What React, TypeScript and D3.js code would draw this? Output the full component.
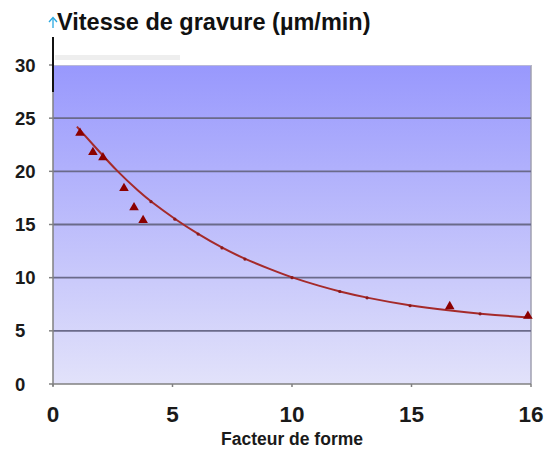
import React from 'react';
import * as d3 from 'd3';

// measured points (facteur de forme, vitesse)
const pointX = [1.13, 1.67, 2.09, 2.97, 3.39, 3.77, 16.6, 19.87];
const pointY = [23.6, 21.8, 21.3, 18.4, 16.6, 15.4, 7.3, 6.4];

// trend curve
const curveX = [1.0, 1.84, 2.68, 3.64, 4.1, 5.1, 6.07, 7.07, 8.03, 9.08, 10.0, 11.17, 12.0, 13.14, 14.94, 16.6, 17.87, 19.95];
const curveY = [24.2, 22.1, 20.0, 18.0, 17.15, 15.5, 14.1, 12.8, 11.75, 10.8, 10.0, 9.2, 8.7, 8.1, 7.36, 6.9, 6.6, 6.25];

// little markers sitting on the trend curve
const markX = [4.1, 5.1, 6.07, 7.07, 8.03, 10.0, 12.0, 13.14, 14.94, 17.87];

const xTicks = [0, 5, 10, 15, 20];
const xTickLabels = ['0', '5', '10', '15', '16'];
const yTicks = [0, 5, 10, 15, 20, 25, 30];

const W = 555;
const H = 450;
const left = 53, right = 531, top = 65, bottom = 384;

export default function App() {
  const x = d3.scaleLinear().domain([0, 20]).range([left, right]);
  const y = d3.scaleLinear().domain([0, 30]).range([bottom, top]);

  const curve = d3.line<number>()
    .x((d, i) => x(curveX[i]))
    .y(d => y(d))
    .curve(d3.curveBasis)(curveY);

  const tri = d3.symbol().type(d3.symbolTriangle).size(40)();
  const font = 'Liberation Sans, Arial, sans-serif';

  return (
    <svg width={W} height={H} style={{ position: 'absolute', left: 0, top: 0, background: '#fff' }}>
      <defs>
        <linearGradient id="bg" x1="0" y1="0" x2="0" y2="1">
          <stop offset="0" stopColor="#9898fd" />
          <stop offset="1" stopColor="#e2e2fa" />
        </linearGradient>
      </defs>

      <rect x={55} y={55} width={125} height={5} fill="#eeeeee" />
      <rect x={left} y={top} width={right - left} height={bottom - top} fill="url(#bg)" />
      <line x1={right} x2={right} y1={top} y2={bottom} stroke="#a0a0b0" strokeWidth={1.5} />

      {yTicks.filter(t => t > 0 && t < 30).map(t => (
        <line key={t} x1={left} x2={right} y1={y(t)} y2={y(t)} stroke="#6a6a8a" strokeWidth={1.8} />
      ))}
      <line x1={left} x2={right} y1={top + 0.5} y2={top + 0.5} stroke="#b8b8d8" strokeWidth={1} />

      {/* axes */}
      <line x1={left} x2={left} y1={top} y2={bottom + 2} stroke="#808080" strokeWidth={1.5} />
      <line x1={left} x2={right} y1={bottom} y2={bottom} stroke="#808080" strokeWidth={1.5} />
      {yTicks.map(t => (
        <line key={t} x1={left - 4} x2={left} y1={y(t)} y2={y(t)} stroke="#808080" strokeWidth={1.5} />
      ))}
      {xTicks.map(t => (
        <line key={t} x1={x(t)} x2={x(t)} y1={bottom} y2={bottom + 3} stroke="#808080" strokeWidth={1.5} />
      ))}
      <line x1={left} x2={left} y1={37} y2={92} stroke="#111" strokeWidth={2} />
      <line x1={left} x2={left} y1={18} y2={28} stroke="#29a8e0" strokeWidth={1.3} />
      <path d="M49,22 L53,17.5 L57,22" fill="none" stroke="#29a8e0" strokeWidth={1.3} />

      <path d={curve ?? ''} fill="none" stroke="#a52a2a" strokeWidth={2} />
      {markX.map((mx, i) => {
        const j = curveX.indexOf(mx);
        return <circle key={i} cx={x(mx)} cy={y(curveY[j])} r={1.6} fill="#8b1a1a" />;
      })}
      {pointX.map((px, i) => (
        <path key={i} d={tri ?? ''} transform={`translate(${x(px)},${y(pointY[i])})`} fill="#8b0000" />
      ))}

      {yTicks.map(t => (
        <text key={t} x={15} y={y(t) + 6.5} fontFamily={font} fontWeight="bold" fontSize={18.5} fill="#1a1a1a">{t}</text>
      ))}
      {xTicks.map((t, i) => (
        <text key={t} x={x(t)} y={422} textAnchor="middle" fontFamily={font} fontWeight="bold" fontSize={22.5} fill="#1a1a1a">{xTickLabels[i]}</text>
      ))}

      <text x={57} y={30} fontFamily={font} fontWeight="bold" fontSize={23.5} fill="#111">Vitesse de gravure (µm/min)</text>
      <text x={292} y={445} textAnchor="middle" fontFamily={font} fontWeight="bold" fontSize={17.5} fill="#1a1a1a">Facteur de forme</text>
    </svg>
  );
}
